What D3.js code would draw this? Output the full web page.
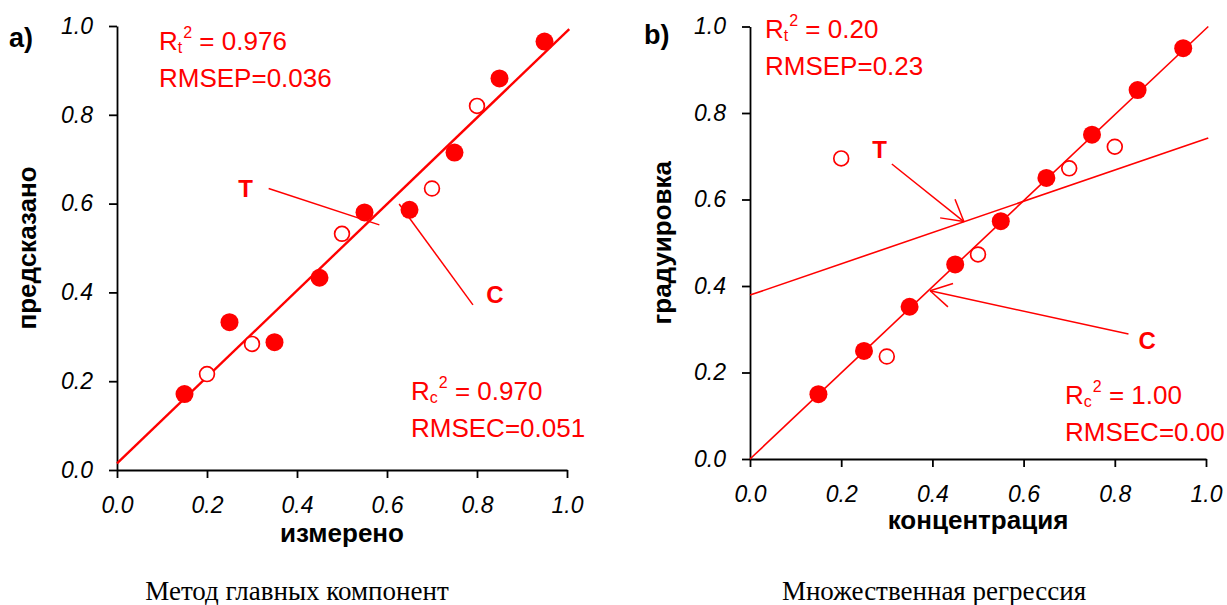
<!DOCTYPE html>
<html>
<head>
<meta charset="utf-8">
<script src="https://cdn.jsdelivr.net/npm/d3@7"></script>
<style>
body { margin: 0; background: #fff; }
svg text { font-family: "Liberation Sans", Arial, sans-serif; }
</style>
</head>
<body>
<div id="chart"></div>
<script>
// --- data ---
var ticks = [0, 0.2, 0.4, 0.6, 0.8, 1.0];
var tickLabels = ["0.0", "0.2", "0.4", "0.6", "0.8", "1.0"];

// a) метод главных компонент
var aCalibX = [0.15, 0.25, 0.35, 0.45, 0.55, 0.65, 0.75, 0.85, 0.95];
var aCalibY = [0.171, 0.333, 0.288, 0.433, 0.580, 0.586, 0.715, 0.882, 0.965];
var aTestX = [0.20, 0.30, 0.50, 0.70, 0.80];
var aTestY = [0.216, 0.284, 0.532, 0.634, 0.820];
var aFit = [[0, 0.015], [1.005, 0.993]];
var aStats = ["0.976", "0.036", "0.970", "0.051"];

// b) множественная регрессия
var bCalibX = [0.15, 0.25, 0.35, 0.45, 0.55, 0.65, 0.75, 0.85, 0.95];
var bCalibY = [0.150, 0.250, 0.352, 0.450, 0.550, 0.650, 0.750, 0.853, 0.950];
var bTestX = [0.20, 0.30, 0.50, 0.70, 0.80];
var bTestY = [0.695, 0.237, 0.473, 0.672, 0.722];
var bFitCalib = [[0, 0], [1.005, 1.0]];
var bFitTest = [[0, 0.379], [1.005, 0.742]];
var bStats = ["0.20", "0.23", "1.00", "0.00"];

// pointer lines (data units): label spot, start, end
var aNotes = [
    {label: "T", at: [0.286, 0.635], from: [0.337, 0.634], to: [0.583, 0.552]},
    {label: "C", at: [0.840, 0.396], from: [0.791, 0.372], to: [0.627, 0.599]}
];
var bNotes = [
    {label: "T", at: [0.284, 0.715], from: [0.311, 0.682], to: [0.469, 0.549]},
    {label: "C", at: [0.871, 0.275], from: [0.830, 0.289], to: [0.395, 0.389]}
];

var red = "#ff0000";

var svg = d3.select('#chart').append('svg')
    .attr('width', 1227)
    .attr('height', 605);

function statBlock(g, px, py, gap, sub, r2, rmsName, rms) {
    var t = g.append('text')
        .attr('x', px).attr('y', py)
        .attr('fill', red)
        .style('font-size', '26px');
    t.append('tspan').text('R');
    t.append('tspan').attr('dy', 3).style('font-size', '16px').text(sub);
    t.append('tspan').attr('dy', -15).attr('dx', 1).style('font-size', '16px').text('2');
    t.append('tspan').attr('dy', 12).text('\u00a0= ' + r2);

    g.append('text')
        .attr('x', px).attr('y', py + gap)
        .attr('fill', red)
        .style('font-size', '26px')
        .text(rmsName + '=' + rms);
}

function drawPanel(p) {
    var x = d3.scaleLinear().domain([0, 1]).range(p.xRange);
    var y = d3.scaleLinear().domain([0, 1]).range(p.yRange);
    var g = svg.append('g');

    var fmt = function(d, i) { return tickLabels[i]; };

    var yAxis = d3.axisLeft(y).tickValues(ticks).tickFormat(fmt)
        .tickSize(8).tickSizeOuter(0).tickPadding(16);
    var xAxis = d3.axisBottom(x).tickValues(ticks).tickFormat(fmt)
        .tickSize(8).tickSizeOuter(0).tickPadding(19);

    g.append('g')
        .attr('transform', 'translate(' + p.xRange[0] + ',0)')
        .call(yAxis);
    g.append('g')
        .attr('transform', 'translate(0,' + p.yRange[0] + ')')
        .call(xAxis);

    g.selectAll('.domain, .tick line')
        .attr('stroke', '#000')
        .attr('stroke-width', 1.8);
    g.selectAll('.tick text')
        .attr('fill', '#000')
        .style('font-family', '"Liberation Sans", Arial, sans-serif')
        .style('font-size', '23px')
        .style('font-style', 'italic');

    // fit lines
    var line = d3.line()
        .x(function(d) { return x(d[0]); })
        .y(function(d) { return y(d[1]); });
    p.fits.forEach(function(f) {
        g.append('path')
            .attr('d', line(f))
            .attr('fill', 'none')
            .attr('stroke', red)
            .attr('stroke-width', p.fitWidth);
    });

    // pointer lines
    p.notes.forEach(function(n) {
        var x1 = x(n.from[0]), y1 = y(n.from[1]);
        var x2 = x(n.to[0]), y2 = y(n.to[1]);
        g.append('line')
            .attr('x1', x1).attr('y1', y1)
            .attr('x2', x2).attr('y2', y2)
            .attr('stroke', red)
            .attr('stroke-width', 1.5);
        if (p.arrows) {
            var ang = Math.atan2(y1 - y2, x1 - x2);
            [-0.52, 0.52].forEach(function(da) {
                g.append('line')
                    .attr('x1', x2).attr('y1', y2)
                    .attr('x2', x2 + 24 * Math.cos(ang + da))
                    .attr('y2', y2 + 24 * Math.sin(ang + da))
                    .attr('stroke', red)
                    .attr('stroke-width', 1.5);
            });
        }
        g.append('text')
            .attr('x', x(n.at[0])).attr('y', y(n.at[1]))
            .attr('dy', '0.36em')
            .attr('text-anchor', 'middle')
            .attr('fill', red)
            .style('font-size', '24px')
            .style('font-weight', 'bold')
            .text(n.label);
    });

    // points: test = open, calibration = filled
    g.selectAll('circle.test')
        .data(p.testX)
        .enter().append('circle')
            .attr('class', 'test')
            .attr('cx', function(d) { return x(d); })
            .attr('cy', function(d, i) { return y(p.testY[i]); })
            .attr('r', 7.4)
            .attr('fill', '#fff')
            .attr('stroke', red)
            .attr('stroke-width', 1.7);
    g.selectAll('circle.calib')
        .data(p.calibX)
        .enter().append('circle')
            .attr('class', 'calib')
            .attr('cx', function(d) { return x(d); })
            .attr('cy', function(d, i) { return y(p.calibY[i]); })
            .attr('r', 9)
            .attr('fill', red);

    // stats
    statBlock(g, p.statTop[0], p.statTop[1], p.statGap, 't', p.stats[0], 'RMSEP', p.stats[1]);
    statBlock(g, p.statBot[0], p.statBot[1], p.statGap, 'c', p.stats[2], 'RMSEC', p.stats[3]);

    // titles
    var xMid = (p.xRange[0] + p.xRange[1]) / 2;
    var yMid = (p.yRange[0] + p.yRange[1]) / 2;
    g.append('text')
        .attr('x', xMid).attr('y', p.xTitleY)
        .attr('text-anchor', 'middle')
        .style('font-size', '26px')
        .style('font-weight', 'bold')
        .text(p.xTitle);
    g.append('text')
        .attr('transform', 'translate(' + p.yTitleX + ',' + yMid + ') rotate(-90)')
        .attr('text-anchor', 'middle')
        .style('font-size', '26px')
        .style('font-weight', 'bold')
        .text(p.yTitle);
    g.append('text')
        .attr('x', p.tag[0]).attr('y', p.tag[1])
        .style('font-size', '27px')
        .style('font-weight', 'bold')
        .text(p.tagText);
    g.append('text')
        .attr('x', p.caption[0]).attr('y', p.caption[1])
        .attr('text-anchor', 'middle')
        .style('font-family', '"Liberation Serif", "Times New Roman", serif')
        .style('font-size', '27px')
        .text(p.captionText);
}

drawPanel({
    xRange: [117, 567], yRange: [470, 26],
    calibX: aCalibX, calibY: aCalibY, testX: aTestX, testY: aTestY,
    fits: [aFit], fitWidth: 2.4,
    notes: aNotes, arrows: false,
    stats: aStats, statTop: [159, 50], statBot: [411, 400], statGap: 37,
    xTitle: "измерено", xTitleY: 542,
    yTitle: "предсказано", yTitleX: 36,
    tagText: "a)", tag: [9, 47],
    captionText: "Метод главных компонент", caption: [297, 600]
});

drawPanel({
    xRange: [750, 1206], yRange: [459, 26.5],
    calibX: bCalibX, calibY: bCalibY, testX: bTestX, testY: bTestY,
    fits: [bFitCalib, bFitTest], fitWidth: 1.6,
    notes: bNotes, arrows: true,
    stats: bStats, statTop: [765, 37.5], statBot: [1065, 403.5], statGap: 37.5,
    xTitle: "концентрация", xTitleY: 529,
    yTitle: "градуировка", yTitleX: 671,
    tagText: "b)", tag: [644, 44],
    captionText: "Множественная регрессия", caption: [934, 600]
});
</script>
</body>
</html>
